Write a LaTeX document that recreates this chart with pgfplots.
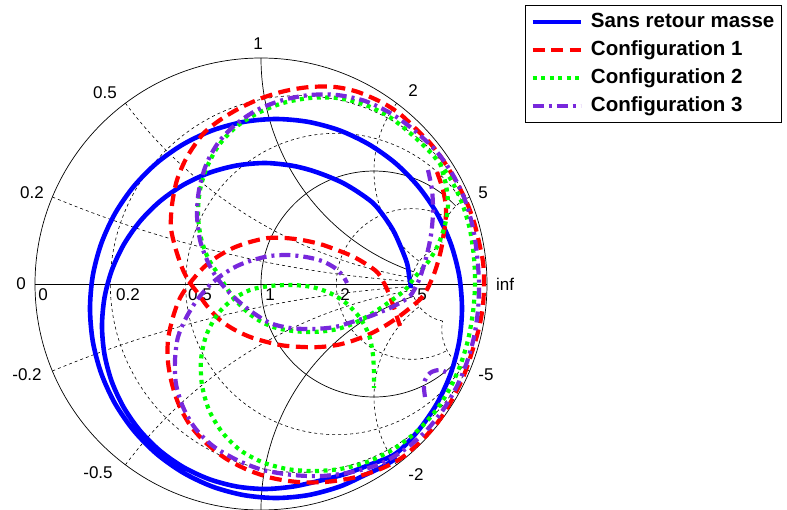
\documentclass[border=0pt]{standalone}
\usepackage{pgfplots}
\pgfplotsset{compat=1.18}
\usepackage{fontspec}
\setmainfont{Liberation Sans}
\definecolor{cblue}{RGB}{0,0,255}
\definecolor{cred}{RGB}{255,0,0}
\definecolor{cgreen}{RGB}{0,255,0}
\definecolor{cpurple}{RGB}{120,40,220}
\begin{document}
\begin{tikzpicture}[x=1pt,y=1pt]
\path[use as bounding box] (-261,-225) rectangle (526,284);
% ---------- Smith chart grid (units: pixels, R = 226) ----------
\begin{scope}[black]
\tikzset{g/.style={line width=0.6pt, dash pattern=on 3pt off 3pt}}
\draw[line width=0.7pt] (0,0) circle[radius=226];
\draw[line width=0.7pt] (-226,0) -- (226,0);
% resistance circles
\draw[g] ([shift={(27:188.33)}]37.67,0) arc[start angle=27,end angle=333,radius=188.33];
\draw[g] ([shift={(33.4:150.67)}]75.33,0) arc[start angle=33.4,end angle=326.6,radius=150.67];
\draw[line width=0.7pt] ([shift={(43.6:113)}]113,0) arc[start angle=43.6,end angle=316.4,radius=113];
\draw[g] ([shift={(61.9:75.33)}]150.67,0) arc[start angle=61.9,end angle=298.1,radius=75.33];
\draw[g] ([shift={(100.4:37.67)}]188.33,0) arc[start angle=100.4,end angle=259.6,radius=37.67];
% reactance arcs
\draw[g] ([shift={(247.38:1130)}]226,1130) arc[start angle=247.38,end angle=266.18,radius=1130];
\draw[g] ([shift={(112.62:1130)}]226,-1130) arc[start angle=112.62,end angle=93.82,radius=1130];
\draw[g] ([shift={(216.87:452)}]226,452) arc[start angle=216.87,end angle=260.47,radius=452];
\draw[g] ([shift={(143.13:452)}]226,-452) arc[start angle=143.13,end angle=99.53,radius=452];
\draw[line width=0.7pt] ([shift={(180:226)}]226,226) arc[start angle=180,end angle=251.08,radius=226];
\draw[line width=0.7pt] ([shift={(180:226)}]226,-226) arc[start angle=180,end angle=108.92,radius=226];
\draw[g] ([shift={(143.13:113)}]226,113) arc[start angle=143.13,end angle=233.13,radius=113];
\draw[g] ([shift={(216.87:113)}]226,-113) arc[start angle=216.87,end angle=126.87,radius=113];
\draw[g] ([shift={(112.62:45.2)}]226,45.2) arc[start angle=112.62,end angle=190.4,radius=45.2];
\draw[g] ([shift={(247.38:45.2)}]226,-45.2) arc[start angle=247.38,end angle=169.6,radius=45.2];
% labels
\tikzset{lab/.style={font=\fontsize{17}{20}\selectfont, inner sep=0pt}}
\node[lab] at (-3,240) {1};
\node[lab] at (-156,191) {0.5};
\node[lab] at (152,193) {2};
\node[lab] at (-229,91) {0.2};
\node[lab] at (222,91) {5};
\node[lab] at (-240,0) {0};
\node[lab] at (244,0) {inf};
\node[lab] at (-234,-91) {-0.2};
\node[lab] at (225,-91) {-5};
\node[lab] at (-163,-189) {-0.5};
\node[lab] at (155,-191) {-2};
\node[lab] at (-218,-11) {0};
\node[lab] at (-133,-11) {0.2};
\node[lab] at (-61,-11) {0.5};
\node[lab] at (9,-11) {1};
\node[lab] at (84,-11) {2};
\node[lab] at (161,-11) {5};
\end{scope}
% ---------- data ----------
\begin{axis}[
  at={(0,0)}, anchor=center,
  width=452pt, height=452pt, scale only axis,
  xmin=-226, xmax=226, ymin=-226, ymax=226,
  hide axis, clip=false,
  legend style={at={(axis description cs:1.084,1.117)}, anchor=north west,
    draw=black, line width=0.8pt, fill=white, inner sep=5pt,
    font=\fontsize{20.5}{24}\selectfont\bfseries,
    row sep=5pt, column sep=6pt,
    nodes={inner sep=2pt, text height=15pt, text depth=4pt}},
  legend cell align=left,
  legend image code/.code={\draw[#1,line cap=butt] (0pt,0pt) -- (48pt,0pt);},
]
\addplot[cblue, line width=4.6pt, smooth, line join=round] coordinates {
(150,-4) (148,9) (146,21) (139,39) (132,54) (122,69) (112,81) (97,92) (82,101) (66,108)
(49,114) (30,118.5) (4,121) (-24.3,118.5) (-51.7,111.2) (-77.5,99.2) (-100.8,82.9) (-120.9,62.8)
(-137.2,39.5) (-149.2,13.7) (-156.5,-13.7) (-159,-42) (-156.5,-70.3) (-149.2,-97.7) (-137.2,-123.5)
(-120.9,-146.8) (-100.8,-166.9) (-77.5,-183.2) (-51.7,-195.2) (-24.3,-202.5) (4,-205) (32.3,-202.5)
(59.7,-196.5) (84,-190) (108,-181) (134.6,-169.7) (157.5,-146.3) (176.1,-119.3) (189.8,-89.3)
(198.2,-57.4) (201,-24.5) (198.2,8.4) (189.8,40.3) (176.1,70.3) (157.5,97.3) (134.6,120.7)
(108,139.6) (78.6,153.6) (47.3,162.1) (15,165) (-17.3,162.1) (-48.6,153.6) (-78,139.6)
(-104.6,120.7) (-127.5,97.3) (-146.1,70.3) (-159.8,40.3) (-168.2,8.4) (-171,-24.5) (-168.2,-57.4)
(-159.8,-89.3) (-146.1,-119.3) (-127.5,-146.3) (-104.6,-169.7) (-78,-188.6) (-48.6,-202.6)
(-17.3,-211.1) (15,-214) (47.3,-211.1) (78.6,-202.6) (104,-191) (121,-183) (136,-174)
};
\addlegendentry{Sans retour masse}
\addplot[cred, line width=4.2pt, smooth, dash pattern=on 12pt off 6.5pt] coordinates {
(176,112) (182,94) (185,76) (184,59) (180,34) (173,10) (162,-12) (144,-28) (127,-40) (109,-50)
(91,-57) (76,-61) (59,-63) (42,-63) (19,-61) (-8,-54) (-26,-46) (-41,-36) (-54,-22) (-64,-8)
(-71,1) (-78,14) (-85,34) (-90,56) (-89,79) (-84,104) (-74,127) (-58,150) (-41,164) (-21,176)
(1,186) (24,193) (49,197) (74,197) (97,192) (122,181) (139,170) (154,156) (169,141) (182,124)
(196,101) (206,81) (213,62) (218,42) (222,22) (223,2) (222,-21) (218,-44) (211,-68) (203,-91)
(192,-114) (177,-138) (159,-158) (139,-175) (117,-186) (91,-194) (64,-198) (37,-198) (11,-194) (-13,-186)
(-36,-174) (-56,-158) (-71,-141) (-82,-121) (-89,-100) (-93,-78) (-93,-56) (-88,-33) (-81,-14) (-71,1)
(-58,16) (-44,27) (-28,36) (-11,42) (7,46) (24,46) (41,44) (59,40) (76,34) (91,28)
(105,20) (117,11) (125,-3) (131,-18) (136,-33) (139,-42)
};
\addlegendentry{Configuration 1}
\addplot[cgreen, line width=4.2pt, smooth, dash pattern=on 4pt off 4.5pt] coordinates {
(179,121) (185,99) (187,79) (184,59) (177,39) (167,22) (154,7) (144,-6) (127,-19) (107,-32)
(89,-41) (72,-46) (52,-48) (32,-47) (12,-43) (-6,-34) (-21,-21) (-33,-6) (-43,10) (-53,26)
(-60,46) (-63,69) (-61,94) (-54,117) (-42,139) (-25,157) (-3,171) (22,181) (49,186) (76,186)
(102,180) (127,168) (149,151) (171,130) (189,106) (201,81) (209,54) (213,26) (214,-1) (212,-28)
(207,-56) (199,-82) (188,-106) (173,-129) (154,-149) (131,-166) (106,-178) (79,-185) (52,-187) (26,-185)
(1,-178) (-21,-166) (-39,-148) (-52,-126) (-59,-101) (-60,-76) (-55,-52) (-44,-31) (-29,-16) (-11,-6)
(9,-2) (31,-1) (51,-3) (69,-9) (85,-19) (99,-34) (108,-51) (112,-71) (113,-91) (113,-104)
};
\addlegendentry{Configuration 2}
\addplot[cpurple, line width=4.2pt, smooth, dash pattern=on 11pt off 5pt on 3pt off 5pt] coordinates {
(167,114) (171,94) (172,72) (170,49) (165,26) (158,4) (149,-12) (135,-21) (122,-27) (107,-33)
(91,-38) (74,-43) (52,-45) (29,-44) (9,-39) (-9,-28) (-24,-16) (-36,-4) (-46,9) (-54,24)
(-61,44) (-64,69) (-62,94) (-55,119) (-43,141) (-26,159) (-4,174) (22,184) (49,189) (76,189)
(104,183) (131,170) (154,153) (176,132) (192,109) (204,84) (212,56) (216,29) (218,1) (217,-26)
(213,-53) (206,-78) (196,-102) (182,-126) (164,-148) (143,-166) (119,-180) (91,-188) (61,-192) (32,-191)
(2,-186) (-24,-176) (-48,-162) (-66,-144) (-78,-123) (-85,-100) (-86,-76) (-83,-53) (-75,-34) (-64,-16)
(-51,-1) (-39,9) (-24,18) (-8,24) (9,28) (27,29) (45,27) (61,23) (74,16) (82,8) (86,1)
};
\addlegendentry{Configuration 3}
\addplot[cpurple, line width=4.2pt, smooth, dash pattern=on 11pt off 5pt on 3pt off 5pt, forget plot] coordinates {
(164,-113) (163,-99) (169,-89) (179,-86) (189,-90)
};
\end{axis}
\end{tikzpicture}
\end{document}
